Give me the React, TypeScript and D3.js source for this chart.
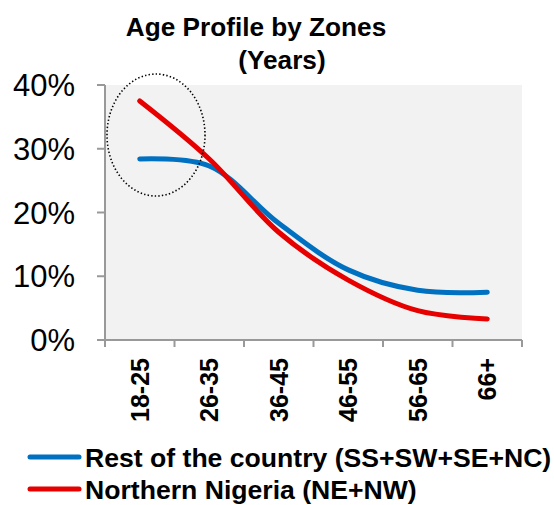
import React from 'react';
import * as d3 from 'd3';

const ageGroups = ['18-25', '26-35', '36-45', '46-55', '56-65', '66+'];
const restOfCountry = [28.4, 27.3, 18.3, 11.0, 7.8, 7.5];
const northernNigeria = [37.5, 28.4, 16.9, 9.4, 4.6, 3.3];
const yTicks = [0, 10, 20, 30, 40];

const series = [
  { name: 'Rest of the country (SS+SW+SE+NC)', values: restOfCountry, color: '#0070c0' },
  { name: 'Northern Nigeria (NE+NW)', values: northernNigeria, color: '#e60000' },
];

const App = () => {
  const width = 554;
  const height = 505;
  const plot = { left: 105, right: 522, top: 85, bottom: 340 };
  const font = '"Liberation Sans", Arial, sans-serif';

  const x = d3.scaleBand().domain(ageGroups).range([plot.left, plot.right]);
  const y = d3.scaleLinear().domain([0, 40]).range([plot.bottom, plot.top]);

  const line = d3
    .line<number>()
    .x((d, i) => x(ageGroups[i])! + x.bandwidth() / 2)
    .y(d => y(d))
    .curve(d3.curveCatmullRom.alpha(0.5));

  const xEdges = ageGroups.map(g => x(g)!).concat([plot.right]);

  return (
    <svg width={width} height={height} style={{ position: 'absolute', left: 0, top: 0 }}>
      <rect x={0} y={0} width={width} height={height} fill="#fff" />
      <text x={256} y={36} textAnchor="middle" fontFamily={font} fontWeight="bold" fontSize={26.2}>
        Age Profile by Zones
      </text>
      <text x={282} y={69} textAnchor="middle" fontFamily={font} fontWeight="bold" fontSize={26.2}>
        (Years)
      </text>

      <rect
        x={plot.left}
        y={plot.top}
        width={plot.right - plot.left}
        height={plot.bottom - plot.top}
        fill="#f2f2f2"
      />

      {/* y axis */}
      <line x1={plot.left} x2={plot.left} y1={plot.top} y2={plot.bottom} stroke="#999" strokeWidth={2} />
      {yTicks.map(t => (
        <g key={t}>
          <line x1={plot.left - 8} x2={plot.left} y1={y(t)} y2={y(t)} stroke="#999" strokeWidth={2} />
          <text
            x={75}
            y={y(t)}
            dy="0.36em"
            textAnchor="end"
            fontFamily={font}
            fontSize={31}
            fill="#000"
          >
            {t}%
          </text>
        </g>
      ))}

      {/* x axis */}
      <line x1={plot.left} x2={plot.right} y1={plot.bottom} y2={plot.bottom} stroke="#999" strokeWidth={2} />
      {xEdges.map((e, i) => (
        <line key={i} x1={e} x2={e} y1={plot.bottom} y2={plot.bottom + 7} stroke="#999" strokeWidth={2} />
      ))}
      {ageGroups.map(g => {
        const cx = x(g)! + x.bandwidth() / 2;
        return (
          <text
            key={g}
            transform={`translate(${cx},358) rotate(-90)`}
            dy="0.36em"
            textAnchor="end"
            fontFamily={font}
            fontWeight="bold"
            fontSize={25}
          >
            {g}
          </text>
        );
      })}

      {series.map(s => (
        <path
          key={s.name}
          d={line(s.values) ?? ''}
          fill="none"
          stroke={s.color}
          strokeWidth={5}
          strokeLinecap="round"
          strokeLinejoin="round"
        />
      ))}

      <ellipse
        cx={156}
        cy={135}
        rx={49}
        ry={61}
        fill="none"
        stroke="#000"
        strokeWidth={1.6}
        strokeDasharray="1.4 2.2"
      />

      {/* legend */}
      {series.map((s, i) => {
        const ly = 457 + i * 32;
        return (
          <g key={s.name}>
            <line x1={30} x2={79} y1={ly} y2={ly} stroke={s.color} strokeWidth={5} strokeLinecap="round" />
            <text x={85} y={ly} dy="0.36em" fontFamily={font} fontWeight="bold" fontSize={26.6}>
              {s.name}
            </text>
          </g>
        );
      })}
    </svg>
  );
};

export default App;
